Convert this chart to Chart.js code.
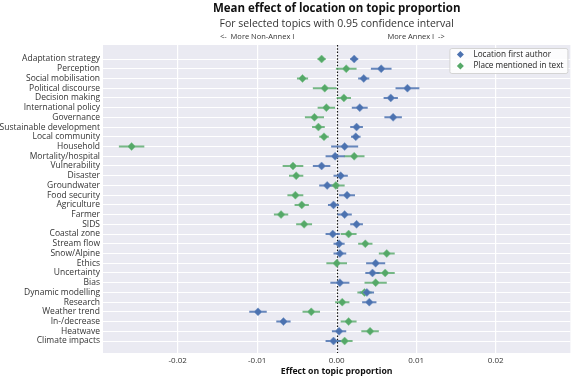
<!DOCTYPE html>
<html>
<head>
<meta charset="utf-8">
<script src="https://cdn.jsdelivr.net/npm/chart.js@4"></script>
<style>
  html, body { margin: 0; padding: 0; background: #fff; }
</style>
</head>
<body>
<canvas id="effect-chart" width="575" height="378"></canvas>
<script>
var topics = [
    'Adaptation strategy', 'Perception', 'Social mobilisation', 'Political discourse',
    'Decision making', 'International policy', 'Governance', 'Sustainable development',
    'Local community', 'Household', 'Mortality/hospital', 'Vulnerability', 'Disaster',
    'Groundwater', 'Food security', 'Agriculture', 'Farmer', 'SIDS', 'Coastal zone',
    'Stream flow', 'Snow/Alpine', 'Ethics', 'Uncertainty', 'Bias', 'Dynamic modelling',
    'Research', 'Weather trend', 'In-/decrease', 'Heatwave', 'Climate impacts'
];

// Location first author: mean and half-width of 0.95 CI
var firstAuthor = [
    0.0022, 0.0056, 0.0034, 0.0089, 0.0068, 0.0029, 0.0071, 0.0025, 0.0024, 0.0010,
    -0.0002, -0.0019, 0.0005, -0.0012, 0.0013, -0.0004, 0.0010, 0.0025, -0.0005, 0.0003,
    0.0004, 0.0049, 0.0045, 0.0004, 0.0038, 0.0041, -0.0099, -0.0067, 0.0003, -0.0004
];
var firstAuthorErr = [
    0.0005, 0.0013, 0.0007, 0.0015, 0.0009, 0.0010, 0.0011, 0.0008, 0.0006, 0.0017,
    0.0012, 0.0011, 0.0009, 0.0010, 0.0010, 0.0007, 0.0009, 0.0008, 0.0009, 0.0007,
    0.0008, 0.0012, 0.0009, 0.0012, 0.0009, 0.0009, 0.0011, 0.0009, 0.0009, 0.0010
];

// Place mentioned in text
var placeText = [
    -0.0019, 0.0012, -0.0043, -0.0015, 0.0009, -0.0013, -0.0028, -0.0023, -0.0016, -0.0258,
    0.0022, -0.0055, -0.0051, -0.0001, -0.0052, -0.0044, -0.0070, -0.0041, 0.0015, 0.0036,
    0.0063, 0.0000, 0.0061, 0.0049, 0.0035, 0.0007, -0.0032, 0.0015, 0.0042, 0.0010
];
var placeTextErr = [
    0.0005, 0.0013, 0.0007, 0.0015, 0.0009, 0.0011, 0.0012, 0.0008, 0.0006, 0.0016,
    0.0013, 0.0013, 0.0009, 0.0011, 0.0010, 0.0009, 0.0009, 0.0010, 0.0010, 0.0009,
    0.0010, 0.0013, 0.0012, 0.0014, 0.0009, 0.0009, 0.0011, 0.0010, 0.0011, 0.0010
];

var xTicks = [-0.02, -0.01, 0, 0.01, 0.02];

var BLUE = '#4c72b0';
var GREEN = '#55a868';
var FONT = "'Open Sans', sans-serif";

function pointsOf(values) {
    return values.map(function (v, i) { return { x: v, y: i }; });
}

// each CI becomes a short segment, broken up by a null point
function barsOf(values, errs) {
    var out = [];
    values.forEach(function (v, i) {
        out.push({ x: v - errs[i], y: i });
        out.push({ x: v + errs[i], y: i });
        out.push({ x: null, y: i });
    });
    return out;
}

var plotBackground = {
    id: 'plotBackground',
    beforeDraw: function (chart) {
        var a = chart.chartArea, ctx = chart.ctx;
        ctx.save();
        ctx.fillStyle = '#eaeaf2';
        ctx.fillRect(a.left, a.top, a.right - a.left, a.bottom - a.top);
        ctx.restore();
    },
    beforeDatasetsDraw: function (chart) {
        var a = chart.chartArea, ctx = chart.ctx;
        var x0 = Math.round(chart.scales.x.getPixelForValue(0)) + 0.5;
        ctx.save();
        ctx.strokeStyle = '#111';
        ctx.lineWidth = 1.2;
        ctx.setLineDash([1.5, 1.8]);
        ctx.beginPath();
        ctx.moveTo(x0, a.top);
        ctx.lineTo(x0, a.bottom);
        ctx.stroke();
        ctx.restore();
    }
};

var headerAndLegend = {
    id: 'headerAndLegend',
    afterDraw: function (chart) {
        var a = chart.chartArea, ctx = chart.ctx, xs = chart.scales.x;
        var cx = (a.left + a.right) / 2;
        ctx.save();
        ctx.textAlign = 'center';
        ctx.textBaseline = 'middle';
        ctx.fillStyle = '#111';
        ctx.font = 'bold 11.5px ' + FONT;
        ctx.fillText('Mean effect of location on topic proportion', cx, 9);
        ctx.fillStyle = '#333';
        ctx.font = '10.5px ' + FONT;
        ctx.fillText('For selected topics with 0.95 confidence interval', cx, 24);
        ctx.font = '7.5px ' + FONT;
        ctx.fillText('<-  More Non-Annex I', xs.getPixelForValue(-0.01), 37);
        ctx.fillText('More Annex I  ->', xs.getPixelForValue(0.01), 37);

        // legend box
        var bx = a.right - 121, by = a.top + 3, bw = 118, bh = 25;
        ctx.fillStyle = 'rgba(255,255,255,0.85)';
        ctx.strokeStyle = '#d4d4d4';
        ctx.lineWidth = 1;
        ctx.beginPath();
        ctx.roundRect(bx + 0.5, by + 0.5, bw, bh, 2);
        ctx.fill();
        ctx.stroke();
        var entries = [chart.data.datasets[0], chart.data.datasets[1]];
        ctx.textAlign = 'left';
        ctx.font = '8.2px ' + FONT;
        entries.forEach(function (ds, k) {
            var ly = by + 6.5 + k * 11.5;
            var mx = bx + 11;
            ctx.fillStyle = ds.backgroundColor;
            ctx.beginPath();
            ctx.moveTo(mx, ly - 3.5);
            ctx.lineTo(mx + 3.5, ly);
            ctx.lineTo(mx, ly + 3.5);
            ctx.lineTo(mx - 3.5, ly);
            ctx.closePath();
            ctx.fill();
            ctx.fillStyle = '#222';
            ctx.fillText(ds.label, bx + 24, ly);
        });
        ctx.restore();
    }
};

new Chart(document.getElementById('effect-chart'), {
    type: 'scatter',
    data: {
        datasets: [
            {
                label: 'Location first author',
                data: pointsOf(firstAuthor),
                backgroundColor: BLUE,
                borderColor: 'rgba(120,150,200,0.9)',
                borderWidth: 0.6,
                pointStyle: 'rectRot',
                pointRadius: 4
            },
            {
                label: 'Place mentioned in text',
                data: pointsOf(placeText),
                backgroundColor: GREEN,
                borderColor: 'rgba(130,200,145,0.9)',
                borderWidth: 0.6,
                pointStyle: 'rectRot',
                pointRadius: 4
            },
            {
                label: 'ci-first',
                data: barsOf(firstAuthor, firstAuthorErr),
                showLine: true,
                spanGaps: false,
                borderColor: 'rgba(76,114,176,0.85)',
                borderWidth: 2,
                pointRadius: 0
            },
            {
                label: 'ci-place',
                data: barsOf(placeText, placeTextErr),
                showLine: true,
                spanGaps: false,
                borderColor: 'rgba(85,168,104,0.8)',
                borderWidth: 2,
                pointRadius: 0
            }
        ]
    },
    options: {
        responsive: false,
        animation: false,
        layout: { padding: { top: 45, right: 2, bottom: 0, left: 0 } },
        plugins: {
            legend: { display: false },
            tooltip: { enabled: false }
        },
        scales: {
            x: {
                type: 'linear',
                min: -0.0294,
                max: 0.0294,
                afterFit: function (s) { s.height = 25; },
                afterBuildTicks: function (s) {
                    s.ticks = xTicks.map(function (v) { return { value: v }; });
                },
                border: { display: false },
                grid: { color: '#ffffff', lineWidth: 1.2, drawTicks: false },
                ticks: {
                    padding: 3,
                    color: '#333',
                    font: { family: FONT, size: 8 },
                    callback: function (v) { return (Math.abs(v) < 1e-9 ? 0 : v).toFixed(2); }
                },
                title: {
                    display: true,
                    text: 'Effect on topic proportion',
                    color: '#111',
                    font: { family: FONT, size: 8.7, weight: 'bold' },
                    padding: { top: 0, bottom: 1.5 }
                }
            },
            y: {
                type: 'linear',
                reverse: true,
                min: -1.44,
                max: 30.23,
                afterFit: function (s) { s.width = 103; },
                afterBuildTicks: function (s) {
                    s.ticks = topics.map(function (t, i) { return { value: i }; });
                },
                border: { display: false },
                grid: { color: '#ffffff', lineWidth: 1, drawTicks: false },
                ticks: {
                    autoSkip: false,
                    padding: 3,
                    color: '#333',
                    font: { family: FONT, size: 8.5, lineHeight: 1 },
                    callback: function (v) { return topics[v]; }
                }
            }
        }
    },
    plugins: [plotBackground, headerAndLegend]
});
</script>
</body>
</html>
